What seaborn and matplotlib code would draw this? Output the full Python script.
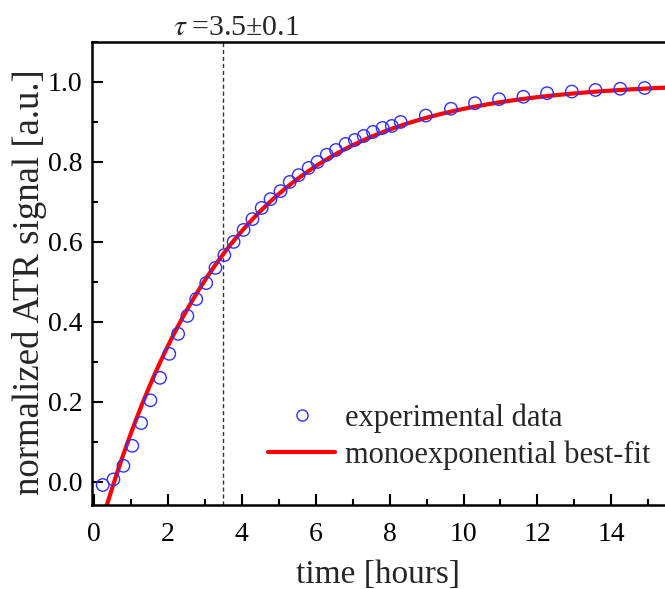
import numpy as np
import pandas as pd
import seaborn as sns
import matplotlib
matplotlib.use("Agg")
import matplotlib.pyplot as plt
from matplotlib.lines import Line2D
from matplotlib.ticker import MultipleLocator

# ---- data ----
time_h = [0.24, 0.53, 0.80, 1.04, 1.28, 1.53, 1.79, 2.04, 2.28, 2.53, 2.77, 3.04,
          3.29, 3.53, 3.78, 4.05, 4.29, 4.54, 4.78, 5.05, 5.30, 5.54, 5.81, 6.05,
          6.30, 6.55, 6.81, 7.06, 7.30, 7.55, 7.81, 8.06, 8.30, 8.98, 9.66, 10.31,
          10.96, 11.62, 12.26, 12.93, 13.57, 14.24, 14.90]
signal = [-0.008, 0.006, 0.04, 0.09, 0.147, 0.204, 0.26, 0.32, 0.37, 0.415, 0.457,
          0.497, 0.535, 0.567, 0.60, 0.63, 0.657, 0.685, 0.707, 0.727, 0.75, 0.767,
          0.785, 0.80, 0.818, 0.83, 0.845, 0.855, 0.865, 0.875, 0.885, 0.89, 0.90,
          0.916, 0.933, 0.947, 0.957, 0.963, 0.972, 0.976, 0.98, 0.983, 0.985]

# monoexponential best-fit parameters
fit_amp = 1.0
fit_t0 = 0.55
fit_tau = 3.5
fit_tau_err = 0.1

x_ticks = [0, 2, 4, 6, 8, 10, 12, 14]
y_ticks = [0.0, 0.2, 0.4, 0.6, 0.8, 1.0]

sns.set_theme(style="ticks")
plt.rcParams["font.family"] = ["Liberation Serif", "DejaVu Serif"]
plt.rcParams["mathtext.fontset"] = "stix"

fig = plt.figure(figsize=(6.65, 5.89), dpi=100)
ax = fig.add_axes([92 / 665, 1 - 505 / 589, 1 - 92 / 665, (505 - 42) / 589])

xlim = (-0.05, 15.45)
t_fit = np.linspace(0.2, 16, 400)
fit_df = pd.DataFrame({"t": t_fit,
                       "y": fit_amp * (1 - np.exp(-(t_fit - fit_t0) / fit_tau))})
data_df = pd.DataFrame({"t": time_h, "y": signal})

ax.axvline(fit_tau, color="#333333", lw=1.0, ls=(0, (3, 2)), zorder=1)
sns.lineplot(data=fit_df, x="t", y="y", ax=ax, color="#ff0000", lw=3.0,
             zorder=2, legend=False)
sns.scatterplot(data=data_df, x="t", y="y", ax=ax, marker="o", s=80,
                facecolor="none", edgecolor="#3030ff", linewidth=1.0,
                zorder=3, legend=False)

ax.set_xlim(*xlim)
ax.set_ylim(-0.058, 1.1)
ax.set_xticks(x_ticks)
ax.set_yticks(y_ticks)
ax.set_yticklabels([f"{v:.1f}" for v in y_ticks])
ax.xaxis.set_minor_locator(MultipleLocator(1))
ax.yaxis.set_minor_locator(MultipleLocator(0.1))
ax.tick_params(which="both", direction="in", width=1.5, colors="black",
               labelsize=20)
ax.tick_params(axis="x", pad=12)
ax.tick_params(axis="y", pad=7)
ax.tick_params(which="major", length=8)
ax.tick_params(which="minor", length=4)
ax.tick_params(axis="x", top=False)
ax.tick_params(axis="y", right=False)
for side in ["left", "bottom", "top"]:
    ax.spines[side].set_linewidth(1.8)
    ax.spines[side].set_color("black")
ax.spines["right"].set_visible(False)

ax.set_xlabel("time [hours]", fontsize=24, labelpad=9)
ax.set_ylabel("normalized ATR signal [a.u.]", fontsize=26.5)
ax.yaxis.set_label_coords(-0.078, 0.482)

ax.text(3.86, 1.015, r"$\tau$" + "\u2009=3.5\u00b10.1", transform=ax.get_xaxis_transform(),
        ha="center", va="baseline", fontsize=21.5)

handles = [
    Line2D([], [], ls="none", marker="o", ms=8, mfc="none", mec="#3030ff", mew=1.0),
    Line2D([], [], color="#ff0000", lw=3.0),
]
ax.legend(handles, ["experimental data", "monoexponential best-fit"],
          loc="lower left", bbox_to_anchor=(268 / 665, 1 - 470 / 589),
          bbox_transform=fig.transFigure, frameon=False, fontsize=22,
          handlelength=2.2, handletextpad=0.33, labelspacing=0.25,
          borderpad=0, borderaxespad=0)

fig.savefig("out.png", dpi=100)
